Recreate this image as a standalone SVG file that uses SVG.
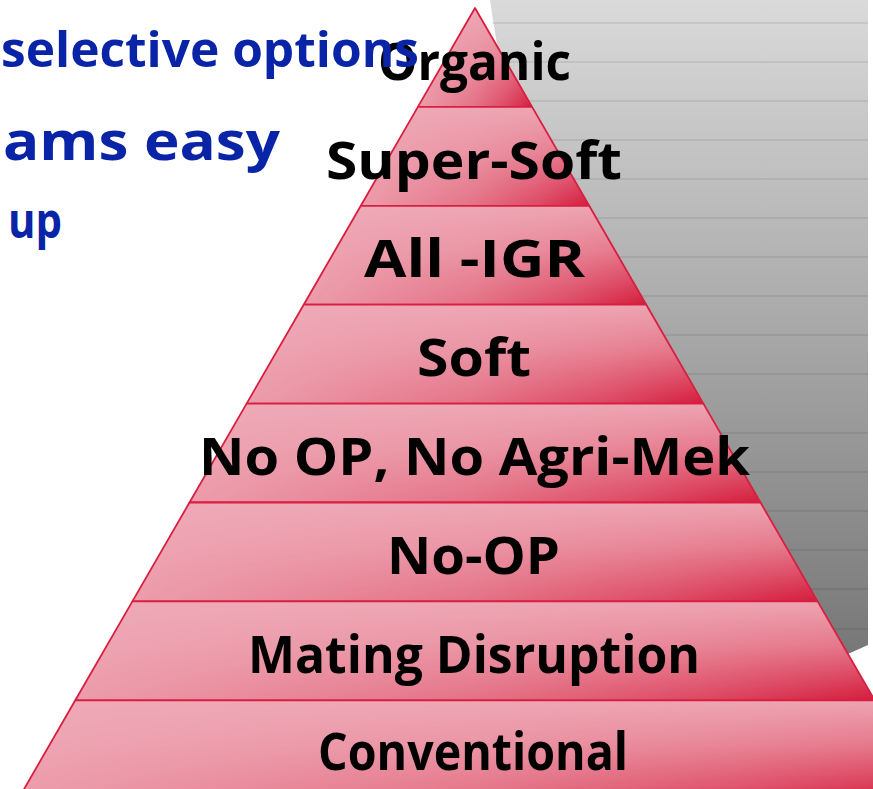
<svg xmlns="http://www.w3.org/2000/svg" width="873" height="789" viewBox="0 0 873 789">
  <style>
    .lbl { font-family: "Comic Sans MS", "Open Sans", "DejaVu Sans", sans-serif; font-weight: bold; font-size: 52px; fill: #000; }
    .blue { font-family: "Comic Sans MS", "Open Sans", "DejaVu Sans", sans-serif; font-weight: bold; font-size: 48px; fill: #0a24a8; }
    .base { fill: #efabb8; }
    .shade { fill: url(#vg); }
    .edge { fill: none; stroke: #d81f40; stroke-width: 1.8; stroke-linejoin: round; }
    .gl { stroke: #000; stroke-opacity: 0.14; stroke-width: 1.2; }
  </style>
  <defs>
    <linearGradient id="grayg" x1="0" y1="0" x2="0" y2="1">
      <stop offset="0" stop-color="#dadada"/>
      <stop offset="1" stop-color="#767676"/>
    </linearGradient>
    <linearGradient id="vg" x1="0" y1="0" x2="0" y2="1">
      <stop offset="0" stop-color="#d41c3c" stop-opacity="0.05"/>
      <stop offset="0.45" stop-color="#d41c3c" stop-opacity="0.38"/>
      <stop offset="1" stop-color="#d41c3c" stop-opacity="1"/>
    </linearGradient>
    <linearGradient id="hg" x1="0" y1="0" x2="1" y2="0">
      <stop offset="0" stop-color="#1a1a1a"/>
      <stop offset="0.5" stop-color="#666666"/>
      <stop offset="0.78" stop-color="#b0b0b0"/>
      <stop offset="1" stop-color="#ffffff"/>
    </linearGradient>
    <mask id="mh" maskContentUnits="objectBoundingBox">
      <rect x="0" y="0" width="1" height="1" fill="url(#hg)"/>
    </mask>
  </defs>

  <g id="backdrop">
    <path d="M490,0 C493,20 496,40 500,60 L830,662 L868,645 L868,0 Z" fill="url(#grayg)"/>
    <g id="backdrop-lines">
      <line class="gl" x1="492" y1="23" x2="868" y2="23"/>
      <line class="gl" x1="496" y1="62" x2="868" y2="62"/>
      <line class="gl" x1="515" y1="101" x2="868" y2="101"/>
      <line class="gl" x1="540" y1="140" x2="868" y2="140"/>
      <line class="gl" x1="560" y1="179" x2="868" y2="179"/>
      <line class="gl" x1="580" y1="218" x2="868" y2="218"/>
      <line class="gl" x1="600" y1="257" x2="868" y2="257"/>
      <line class="gl" x1="620" y1="296" x2="868" y2="296"/>
      <line class="gl" x1="640" y1="335" x2="868" y2="335"/>
      <line class="gl" x1="660" y1="374" x2="868" y2="374"/>
      <line class="gl" x1="690" y1="433" x2="868" y2="433"/>
      <line class="gl" x1="715" y1="472" x2="868" y2="472"/>
      <line class="gl" x1="735" y1="511" x2="868" y2="511"/>
      <line class="gl" x1="755" y1="550" x2="868" y2="550"/>
      <line class="gl" x1="775" y1="589" x2="868" y2="589"/>
      <line class="gl" x1="800" y1="629" x2="868" y2="629"/>
    </g>
  </g>

  <g id="band-organic">
    <polygon class="base" points="475,8 532.1,106.9 417.9,106.9"/>
    <polygon class="shade" mask="url(#mh)" points="475,8 532.1,106.9 417.9,106.9"/>
    <polygon class="edge" points="475,8 532.1,106.9 417.9,106.9"/>
  </g>
  <g id="band-supersoft">
    <polygon class="base" points="417.9,106.9 532.1,106.9 589.2,205.8 360.8,205.8"/>
    <polygon class="shade" mask="url(#mh)" points="417.9,106.9 532.1,106.9 589.2,205.8 360.8,205.8"/>
    <polygon class="edge" points="417.9,106.9 532.1,106.9 589.2,205.8 360.8,205.8"/>
  </g>
  <g id="band-alligr">
    <polygon class="base" points="360.8,205.8 589.2,205.8 646.3,304.7 303.7,304.7"/>
    <polygon class="shade" mask="url(#mh)" points="360.8,205.8 589.2,205.8 646.3,304.7 303.7,304.7"/>
    <polygon class="edge" points="360.8,205.8 589.2,205.8 646.3,304.7 303.7,304.7"/>
  </g>
  <g id="band-soft">
    <polygon class="base" points="303.7,304.7 646.3,304.7 703.4,403.6 246.6,403.6"/>
    <polygon class="shade" mask="url(#mh)" points="303.7,304.7 646.3,304.7 703.4,403.6 246.6,403.6"/>
    <polygon class="edge" points="303.7,304.7 646.3,304.7 703.4,403.6 246.6,403.6"/>
  </g>
  <g id="band-noop-noagrimek">
    <polygon class="base" points="246.6,403.6 703.4,403.6 760.5,502.5 189.5,502.5"/>
    <polygon class="shade" mask="url(#mh)" points="246.6,403.6 703.4,403.6 760.5,502.5 189.5,502.5"/>
    <polygon class="edge" points="246.6,403.6 703.4,403.6 760.5,502.5 189.5,502.5"/>
  </g>
  <g id="band-noop">
    <polygon class="base" points="189.5,502.5 760.5,502.5 817.6,601.4 132.4,601.4"/>
    <polygon class="shade" mask="url(#mh)" points="189.5,502.5 760.5,502.5 817.6,601.4 132.4,601.4"/>
    <polygon class="edge" points="189.5,502.5 760.5,502.5 817.6,601.4 132.4,601.4"/>
  </g>
  <g id="band-mating">
    <polygon class="base" points="132.4,601.4 817.6,601.4 874.7,700.3 75.3,700.3"/>
    <polygon class="shade" mask="url(#mh)" points="132.4,601.4 817.6,601.4 874.7,700.3 75.3,700.3"/>
    <polygon class="edge" points="132.4,601.4 817.6,601.4 874.7,700.3 75.3,700.3"/>
  </g>
  <g id="band-conventional">
    <polygon class="base" points="75.3,700.3 874.7,700.3 931.8,799.2 18.2,799.2"/>
    <polygon class="shade" mask="url(#mh)" points="75.3,700.3 874.7,700.3 931.8,799.2 18.2,799.2"/>
    <polygon class="edge" points="75.3,700.3 874.7,700.3 931.8,799.2 18.2,799.2"/>
  </g>

  <g id="labels">
    <text class="lbl" x="474.5" y="80" text-anchor="middle" textLength="193" lengthAdjust="spacingAndGlyphs">Organic</text>
    <text class="lbl" x="474" y="179" text-anchor="middle" textLength="296" lengthAdjust="spacingAndGlyphs">Super-Soft</text>
    <text class="lbl" x="474.5" y="277" text-anchor="middle" textLength="221" lengthAdjust="spacingAndGlyphs">All -IGR</text>
    <text class="lbl" x="474" y="376" text-anchor="middle" textLength="114" lengthAdjust="spacingAndGlyphs">Soft</text>
    <text class="lbl" x="474.5" y="475" text-anchor="middle" textLength="551" lengthAdjust="spacingAndGlyphs">No OP, No Agri-Mek</text>
    <text class="lbl" x="473.5" y="574" text-anchor="middle" textLength="173" lengthAdjust="spacingAndGlyphs">No-OP</text>
    <text class="lbl" x="474" y="673" text-anchor="middle" textLength="452" lengthAdjust="spacingAndGlyphs">Mating Disruption</text>
    <text class="lbl" x="473" y="770" text-anchor="middle" textLength="310" lengthAdjust="spacingAndGlyphs">Conventional</text>
  </g>

  <g id="side-text">
    <text class="blue" x="1" y="67" textLength="418" lengthAdjust="spacingAndGlyphs">selective options</text>
    <text class="blue" x="3" y="160" style="font-size:54px" textLength="277" lengthAdjust="spacingAndGlyphs">ams easy</text>
    <text class="blue" x="8" y="238" style="font-size:50px" textLength="54" lengthAdjust="spacingAndGlyphs">up</text>
  </g>
</svg>
